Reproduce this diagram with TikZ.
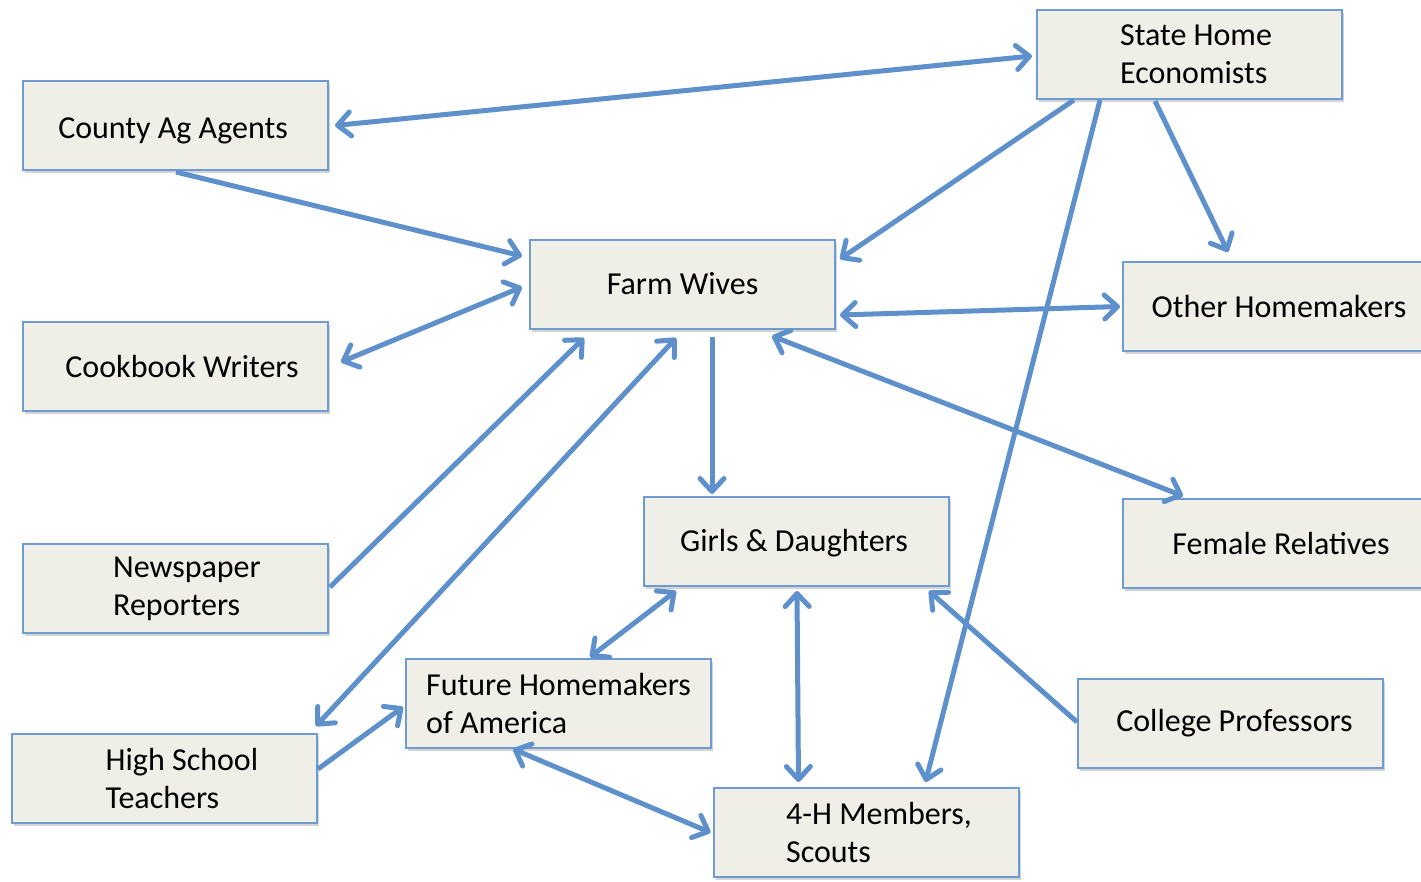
\documentclass[tikz,border=0pt]{standalone}
\usepackage{fontspec}
\setmainfont{Carlito}
\usetikzlibrary{arrows.meta,shadows}
\definecolor{boxfill}{HTML}{EFEFE7}
\definecolor{boxline}{HTML}{6E9BD2}
\definecolor{arrowblue}{HTML}{5E90CB}
\newcommand\padL[1]{\hspace*{#1}}
\tikzset{
  box/.style={draw=boxline, line width=2pt, fill=boxfill,
    minimum width=305pt, minimum height=89pt, inner sep=0pt,
    align=left, font=\fontsize{32}{38}\selectfont,
    drop shadow={shadow xshift=2pt, shadow yshift=-3pt, opacity=0.3, fill=black!55}},
  link/.style={draw=arrowblue, line width=5pt},
  tipend/.style={link, -{Straight Barb[length=13pt,width=24pt,round]}},
  tipboth/.style={link, {Straight Barb[length=13pt,width=24pt,round]}-{Straight Barb[length=13pt,width=24pt,round]}}
}
\begin{document}
\begin{tikzpicture}[x=1pt,y=-1pt]
\useasboundingbox[fill=white] (0,0) rectangle (1421,881);

% boxes
\node[box] (she) at (1189.5,54.5) {\padL{13pt}State Home\\\padL{13pt}Economists};
\node[box, text height=32pt, text depth=6.5pt] (cag) at (175.5,125.5) {\padL{-5pt}County Ag Agents};
\node[box, text height=26pt, text depth=6.5pt] (fw)  at (682.5,284.5) {Farm Wives};
\node[box] (oh)  at (1275.5,306.5) {\padL{7pt}Other Homemakers};
\node[box] (cw)  at (175.5,366.5) {\padL{13pt}Cookbook Writers};
\node[box] (nr)  at (175.5,588.5) {\padL{23pt}Newspaper\\\padL{23pt}Reporters};
\node[box, text height=26pt, text depth=6.5pt] (gd)  at (796.5,541.5) {\padL{-5pt}Girls \& Daughters};
\node[box] (fr)  at (1275.5,543.5) {\padL{11pt}Female Relatives};
\node[box] (fha) at (558.5,703.5) {Future Homemakers\\of America};
\node[box] (hst) at (164.5,778.5) {\padL{35pt}High School\\\padL{35pt}Teachers};
\node[box] (cp)  at (1230.5,723.5) {\padL{8pt}College Professors};
\node[box] (fh)  at (866,832.5) {\padL{26pt}4-H Members,\\\padL{26pt}Scouts};

% connectors
\draw[tipboth] ([xshift=6pt]cag.east) -- ([shift={(-4,1.5)}]she.west);
\draw[tipend] ([shift={(0.5,1)}]cag.south) -- ([shift={(-7,17)}]fw.north west);
\draw[tipend] ([xshift=38pt]she.south west) -- ([shift={(4,20)}]fw.north east);
\draw[tipend] ([xshift=64pt]she.south west) -- ([shift={(213,-5)}]fh.north west);
\draw[tipend] ([shift={(119,1)}]she.south west) -- ([shift={(106,-9)}]oh.north west);
\draw[tipboth] ([shift={(4,-15)}]fw.south east) -- ([shift={(-2,0)}]oh.west);
\draw[tipboth] ([shift={(12,-4.5)}]cw.east) -- ([shift={(-7,2.5)}]fw.west);
\draw[tipend] ([shift={(1,-1.5)}]nr.east) -- ([shift={(55,8)}]fw.south west);
\draw[tipboth] ([shift={(-2,-7)}]hst.north east) -- ([shift={(147,8)}]fw.south west);
\draw[tipend] ([shift={(183,7)}]fw.south west) -- ([shift={(69,-2)}]gd.north west);
\draw[tipboth] ([shift={(243,6)}]fw.south west) -- ([shift={(61,-2)}]fr.north west);
\draw[tipboth] ([shift={(33,4)}]gd.south west) -- ([shift={(185,-1)}]fha.north west);
\draw[tipboth] ([shift={(154,4)}]gd.south west) -- ([shift={(86,-5)}]fh.north west);
\draw[tipend] ([shift={(0,-1.5)}]cp.west) -- ([shift={(-21,4)}]gd.south east);
\draw[tipend] ([shift={(0,-9.5)}]hst.east) -- ([shift={(-2,3.5)}]fha.west);
\draw[tipboth] ([xshift=108pt]fha.south west) -- ([shift={(-2,0)}]fh.west);
\end{tikzpicture}
\end{document}
